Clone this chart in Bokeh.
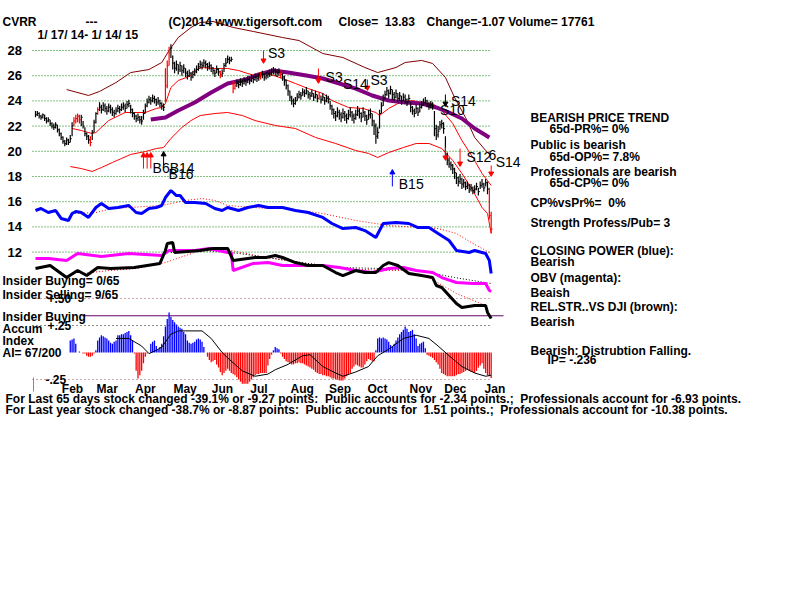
import pandas as pd
from bokeh.plotting import figure
from bokeh.models import Range1d
from bokeh.embed import file_html
from bokeh.resources import INLINE
from bokeh.core.properties import value

# ------------------------------------------------------------------ data
HOLIDAYS = ["2014-01-20", "2014-02-17", "2014-04-18", "2014-05-26", "2014-07-04",
            "2014-09-01", "2014-11-27", "2014-12-25", "2015-01-01"]
dates = [d for d in pd.bdate_range("2014-01-17", "2015-01-14")
         if d.strftime("%Y-%m-%d") not in HOLIDAYS]

close = [22.9, 23.0, 22.8, 22.7, 22.9, 22.6, 22.4, 22.5, 22.2, 22.0, 21.9, 22.1, 21.7, 21.4, 21.1,
         20.8, 20.6, 20.9, 20.7, 21.0,
         22.0, 22.4, 22.6, 22.8, 22.5, 22.7,
         22.0, 21.4, 21.2, 20.9, 20.7,
         21.5, 22.3, 23.0, 23.3,
         23.5, 23.3, 23.6, 23.4, 23.2, 23.5, 23.3, 23.1, 23.0, 23.2, 23.4, 23.3, 23.5, 23.6, 23.4, 23.7, 23.8,
         23.3, 23.0, 22.8, 22.6, 22.7, 22.5, 22.4, 23.0,
         23.6, 23.9, 24.1, 24.0, 24.2, 24.1, 23.9, 24.0, 23.8, 23.6, 23.5,
         25.2, 26.8, 27.8, 28.2,
         27.0, 26.6, 26.9, 26.5, 26.8, 26.4, 26.6, 26.2,
         26.0, 26.2, 25.9, 26.1, 26.3,
         26.5, 26.7, 26.9, 26.8, 27.0, 26.9, 26.7, 26.8, 26.6,
         26.4, 26.2, 26.5, 26.3, 26.1, 26.2,
         26.8, 27.0, 27.3, 27.2, 27.3,
         25.0, 25.2, 25.4, 25.3, 25.5, 25.4, 25.6, 25.5, 25.7, 25.6, 25.8, 25.7, 25.9, 25.8, 25.9, 26.0, 26.1, 25.9, 26.0, 26.1,
         26.2, 26.3, 26.4, 26.3, 26.2, 26.3, 26.1, 25.9, 25.6, 25.2,
         24.8, 24.3, 24.0, 23.8, 24.0,
         24.3, 24.5, 24.4, 24.7, 24.6, 24.8, 24.5,
         24.4, 24.6, 24.3, 24.5, 24.2, 24.4, 24.1, 24.3, 24.0, 24.2, 24.1,
         23.6, 23.3, 23.0, 22.8, 23.1, 22.9, 22.7, 23.0, 22.8, 22.6, 22.9, 23.1, 22.8, 22.6, 22.9,
         23.2, 23.0, 22.7, 23.1, 22.8, 22.5, 22.9, 23.0, 22.4, 22.0, 21.2, 21.5,
         23.0, 23.6, 24.2, 24.5,
         24.8, 24.6, 24.9, 24.5, 24.3, 24.6,
         24.2, 24.4, 24.0, 24.3, 24.1, 23.9, 24.2,
         23.5, 23.2, 23.0, 23.4, 23.1, 23.5, 23.7, 23.9, 24.0, 23.8, 23.6,
         23.7, 23.6,
         21.8, 21.3, 21.6,
         22.1, 22.2, 21.8,
         19.7, 19.3, 19.0,
         18.9, 18.6, 18.3, 17.9,
         17.6, 17.8, 17.4, 17.5, 17.2, 17.3, 17.0,
         17.1, 16.9, 17.0, 17.2, 16.8, 17.3, 17.4, 17.1, 17.5, 17.0,
         14.9, 13.83]

high = [23.2, 23.2, 23.1, 22.9, 23.0, 22.9, 22.7, 22.7, 22.5, 22.3, 22.2, 22.3, 22.1, 21.8, 21.5,
        21.2, 20.9, 21.1, 21.0, 21.3,
        22.3, 22.7, 22.9, 23.0, 22.9, 22.9,
        22.4, 21.9, 21.5, 21.3, 21.2,
        21.7, 22.5, 23.1, 23.5,
        23.9, 23.7, 23.9, 23.8, 23.6, 23.8, 23.7, 23.5, 23.3, 23.5, 23.7, 23.6, 23.8, 23.9, 23.8, 24.0, 24.1,
        23.7, 23.4, 23.1, 22.9, 23.0, 22.8, 22.8, 23.3,
        23.8, 24.2, 24.4, 24.3, 24.5, 24.4, 24.2, 24.3, 24.1, 23.9, 23.8,
        26.6, 27.2, 28.3, 28.5,
        27.6, 27.1, 27.2, 26.9, 27.1, 26.8, 26.9, 26.6,
        26.4, 26.5, 26.3, 26.4, 26.6,
        26.8, 27.0, 27.2, 27.1, 27.3, 27.2, 27.0, 27.1, 26.9,
        26.7, 26.5, 26.8, 26.6, 26.4, 26.5,
        27.0, 27.4, 27.6, 27.5, 27.5,
        25.6, 25.5, 25.7, 25.6, 25.8, 25.7, 25.9, 25.8, 26.0, 25.9, 26.1, 26.0, 26.2, 26.1, 26.2, 26.3, 26.4, 26.2, 26.3, 26.4,
        26.5, 26.6, 26.7, 26.6, 26.5, 26.6, 26.4, 26.2, 26.0, 25.7,
        25.3, 24.8, 24.4, 24.2, 24.3,
        24.6, 24.8, 24.7, 25.0, 24.9, 25.1, 24.8,
        24.7, 24.9, 24.6, 24.8, 24.5, 24.7, 24.4, 24.6, 24.3, 24.5, 24.4,
        24.0, 23.7, 23.4, 23.2, 23.5, 23.3, 23.1, 23.4, 23.2, 23.0, 23.3, 23.5, 23.2, 23.0, 23.3,
        23.6, 23.4, 23.1, 23.5, 23.2, 22.9, 23.3, 23.4, 23.0, 22.5, 22.2, 21.9,
        23.3, 23.9, 24.5, 24.8,
        25.1, 24.9, 25.2, 24.9, 24.7, 24.9,
        24.6, 24.7, 24.4, 24.6, 24.5, 24.2, 24.5,
        23.9, 23.6, 23.4, 23.7, 23.5, 23.8, 24.0, 24.2, 24.3, 24.1, 23.9,
        24.0, 23.9,
        23.2, 22.1, 22.0,
        22.4, 22.5, 22.3,
        21.2, 19.9, 19.5,
        19.2, 19.0, 18.7, 18.3,
        18.0, 18.2, 17.9, 17.8, 17.6, 17.6, 17.4,
        17.4, 17.2, 17.3, 17.5, 17.1, 17.6, 17.8, 17.5, 17.8, 17.6,
        17.1, 15.2]

low = [22.7, 22.8, 22.6, 22.5, 22.6, 22.4, 22.2, 22.3, 22.0, 21.8, 21.7, 21.8, 21.5, 21.2, 20.9,
       20.6, 20.4, 20.5, 20.5, 20.7,
       21.2, 22.0, 22.2, 22.3, 22.2, 22.0,
       21.8, 21.2, 20.9, 20.6, 20.4,
       20.9, 21.5, 22.2, 22.9,
       23.2, 23.0, 23.2, 23.1, 22.9, 23.1, 23.0, 22.8, 22.7, 22.9, 23.1, 23.0, 23.2, 23.3, 23.1, 23.4, 23.5,
       23.0, 22.7, 22.5, 22.3, 22.4, 22.2, 22.1, 22.5,
       23.0, 23.5, 23.8, 23.7, 23.9, 23.8, 23.6, 23.7, 23.5, 23.3, 23.2,
       23.9, 25.0, 26.8, 27.4,
       26.5, 26.2, 26.4, 26.1, 26.3, 26.0, 26.2, 25.9,
       25.7, 25.9, 25.6, 25.8, 26.0,
       26.2, 26.4, 26.6, 26.5, 26.7, 26.6, 26.4, 26.5, 26.3,
       26.1, 25.9, 26.2, 26.0, 25.8, 25.9,
       26.3, 26.7, 27.0, 26.9, 27.1,
       24.6, 24.9, 25.1, 25.0, 25.2, 25.1, 25.3, 25.2, 25.4, 25.3, 25.5, 25.4, 25.6, 25.5, 25.6, 25.7, 25.8, 25.6, 25.7, 25.8,
       25.9, 26.0, 26.1, 26.0, 25.9, 26.0, 25.8, 25.6, 25.2, 24.9,
       24.4, 24.0, 23.7, 23.5, 23.7,
       24.0, 24.2, 24.1, 24.4, 24.3, 24.5, 24.2,
       24.1, 24.3, 24.0, 24.2, 23.9, 24.1, 23.8, 24.0, 23.7, 23.9, 23.8,
       23.3, 22.9, 22.6, 22.4, 22.7, 22.5, 22.3, 22.6, 22.4, 22.2, 22.5, 22.7, 22.4, 22.2, 22.5,
       22.8, 22.6, 22.3, 22.7, 22.4, 22.1, 22.5, 22.6, 22.0, 21.3, 20.6, 21.0,
       21.8, 23.0, 23.6, 24.1,
       24.4, 24.2, 24.5, 24.1, 24.0, 24.2,
       23.9, 24.0, 23.7, 24.0, 23.8, 23.6, 23.9,
       23.1, 22.9, 22.7, 23.0, 22.8, 23.1, 23.4, 23.6, 23.7, 23.5, 23.3,
       23.4, 23.3,
       21.2, 20.9, 21.1,
       21.7, 21.8, 21.4,
       19.5, 18.9, 18.7,
       18.5, 18.2, 17.8, 17.4,
       17.2, 17.4, 17.0, 17.1, 16.9, 17.0, 16.7,
       16.8, 16.6, 16.7, 16.9, 16.5, 17.0, 17.1, 16.8, 17.2, 16.6,
       14.6, 13.5]

red_bar_days = [21, 22, 23, 24, 30, 34, 71, 72, 73, 101, 108, 109, 123, 134, 155, 248, 249]

# bands and moving averages (chart price units), read at their vertices
upper_band_days = [17, 29, 35, 44, 52, 62, 69, 73, 78, 85, 90, 97, 108, 119, 135, 144, 157, 168, 180,
                   187, 197, 202, 211, 217, 224, 229, 235, 240, 246, 249]
upper_band_vals = [24.90, 24.43, 24.75, 25.46, 26.25, 26.49, 27.05, 28.00, 29.03, 29.83, 30.22, 30.30,
                   29.83, 29.51, 29.03, 28.79, 27.76, 27.44, 26.65, 26.25, 26.65, 27.05, 27.21, 26.97,
                   25.86, 24.27, 22.68, 21.10, 20.06, 19.67]
ma21_days = [20, 25, 31, 33, 40, 49, 60, 66, 69, 71, 74, 78, 84, 87, 91, 98, 105, 111, 116, 120, 127,
             135, 142, 149, 157, 162, 171, 179, 186, 188, 193, 198, 206, 211, 217, 222, 228, 233, 239,
             244, 247, 249]
ma21_vals = [21.81, 21.65, 21.41, 21.49, 22.44, 23.08, 23.08, 23.40, 23.48, 23.79, 25.06, 25.62, 25.94,
             26.41, 26.65, 26.57, 26.57, 26.41, 26.17, 26.02, 26.17, 25.78, 25.38, 24.98, 24.59, 24.03,
             23.48, 23.40, 23.08, 22.84, 23.40, 23.79, 24.03, 23.87, 23.79, 23.24, 22.21, 20.86, 19.51,
             18.24, 17.68, 17.29]
lower_band_days = [19, 25, 31, 36, 42, 47, 52, 60, 66, 70, 74, 80, 85, 90, 98, 105, 113, 120, 131, 142,
                   153, 164, 175, 182, 187, 193, 201, 208, 215, 222, 228, 233, 239, 244, 247, 249]
lower_band_vals = [18.79, 18.63, 18.40, 18.71, 19.11, 19.43, 19.75, 19.98, 20.22, 20.30, 21.02, 21.89,
                   22.44, 22.84, 23.00, 23.08, 22.84, 22.44, 22.05, 21.81, 21.10, 20.62, 20.06, 19.83,
                   19.51, 19.90, 20.30, 20.62, 20.62, 20.22, 19.27, 18.24, 16.89, 15.54, 15.06, 13.48]
ma65_days = [63, 71, 78, 87, 96, 105, 115, 122, 130, 138, 148, 157, 166, 175, 184, 193, 202, 211, 219,
             226, 233, 240, 248]
ma65_vals = [22.52, 22.68, 23.24, 23.87, 24.67, 25.38, 25.70, 26.10, 26.41, 26.25, 26.02, 25.78, 25.38,
             24.98, 24.43, 24.03, 23.87, 23.79, 23.48, 23.08, 22.60, 21.81, 21.10]

# Closing Power (blue) and its MA (red dotted)
cp_days = [0, 3, 7, 11, 14, 18, 20, 22, 25, 29, 33, 36, 40, 45, 51, 55, 58, 62, 66, 69, 71, 74, 77, 79,
           82, 87, 93, 98, 102, 105, 111, 116, 122, 127, 135, 142, 149, 157, 162, 168, 175, 180, 186,
           190, 197, 204, 209, 215, 220, 226, 230, 237, 240, 246, 248, 249]
cp_vals = [15.30, 15.46, 15.14, 15.30, 14.67, 14.51, 15.06, 15.22, 15.14, 14.75, 15.54, 15.86, 15.46,
           15.54, 15.70, 15.14, 15.06, 15.46, 15.54, 15.70, 16.33, 16.89, 16.49, 16.49, 15.94, 15.94,
           15.86, 15.46, 15.30, 15.54, 15.30, 15.54, 15.70, 15.54, 15.54, 15.30, 15.14, 14.75, 14.27,
           13.87, 13.95, 13.71, 13.16, 14.27, 14.35, 14.27, 13.95, 13.95, 13.48, 12.92, 12.13, 11.97,
           12.13, 11.89, 11.33, 10.30]
cp_ma_days = [20, 33, 42, 51, 69, 77, 82, 91, 98, 105, 127, 138, 157, 175, 193, 211, 220, 230, 239, 248]
cp_ma_vals = [15.06, 15.14, 15.46, 15.54, 15.70, 15.94, 16.10, 16.25, 16.10, 15.70, 15.46, 15.46, 15.06,
              14.51, 14.11, 13.95, 13.87, 13.48, 12.68, 11.97]

# OBV (magenta) and relative strength vs DJI (black)
obv_days = [0, 7, 17, 23, 36, 51, 69, 73, 87, 95, 105, 107, 108, 119, 127, 135, 148, 157, 166, 175, 184,
            193, 201, 208, 217, 222, 230, 239, 246, 248, 249]
obv_vals = [11.49, 11.49, 11.33, 11.89, 11.65, 11.89, 11.73, 12.13, 12.13, 12.29, 11.97, 11.97, 10.54,
            11.10, 11.17, 10.94, 10.94, 10.94, 10.78, 10.54, 10.38, 10.70, 10.78, 10.54, 10.38, 9.98,
            9.59, 9.51, 9.51, 8.95, 8.87]
obv_ma_days = [25, 41, 55, 71, 90, 107, 123, 145, 169, 191, 200, 215, 230, 246]
obv_ma_vals = [10.30, 10.54, 10.70, 11.17, 12.13, 12.13, 11.65, 11.17, 10.70, 10.54, 10.54, 9.98, 8.71,
               7.76]
rs_days = [0, 8, 17, 23, 28, 34, 41, 54, 68, 71, 72, 75, 76, 90, 97, 105, 108, 120, 126, 131, 135, 142,
           149, 157, 164, 168, 175, 180, 186, 190, 193, 198, 204, 211, 217, 219, 222, 226, 230, 233, 240,
           246, 247, 249]
rs_vals = [10.70, 10.94, 9.98, 10.54, 10.14, 10.78, 10.70, 10.78, 11.10, 12.13, 12.68, 12.76, 11.97,
           12.13, 12.29, 12.29, 11.33, 11.57, 11.57, 11.73, 11.57, 11.17, 10.94, 10.94, 10.38, 10.14,
           10.54, 10.38, 10.38, 10.94, 11.17, 10.94, 10.30, 10.14, 9.98, 9.35, 9.19, 8.56, 7.92, 7.60,
           7.76, 7.76, 7.21, 6.73]
rs_ma_days = [74, 90, 107, 123, 145, 167, 188, 210, 229, 249]
rs_ma_vals = [11.97, 12.13, 11.97, 11.65, 11.17, 10.78, 10.70, 10.54, 9.98, 9.51]

# Accumulation Index (daily, from day 19) and its moving average
ai_first_day = 19
ai_vals = [0.11, 0.12, 0.13, 0.08,
           0.00, 0.01, 0.00, -0.01,
           -0.01, -0.03, -0.04, -0.04, -0.03, -0.01, 0.02,
           0.11, 0.14, 0.16, 0.15, 0.14, 0.13,
           0.11, 0.09, 0.08, 0.10, 0.11, 0.16,
           0.16, 0.17, 0.17, 0.18, 0.19, 0.20, 0.16,
           0.11, -0.01, -0.17, -0.24, -0.21, -0.17, -0.10,
           -0.04, -0.01, 0.00, 0.08, 0.10, 0.11, 0.06,
           0.03, 0.05, 0.08, 0.15, 0.24, 0.31,
           0.37, 0.33, 0.30, 0.28, 0.26, 0.24, 0.23,
           0.22, 0.19, 0.17, 0.11, 0.09, 0.08, 0.09,
           0.10, 0.12, 0.13, 0.12, 0.10, 0.05, 0.00,
           -0.04, -0.07, -0.09, -0.08, -0.07, -0.11, -0.14,
           -0.18, -0.21, -0.19, -0.17, -0.15, -0.17, -0.19,
           -0.20, -0.21, -0.23, -0.25, -0.27, -0.29, -0.29,
           -0.29, -0.29, -0.27, -0.25, -0.23, -0.21, -0.20,
           -0.20, -0.19, -0.19, -0.19, -0.19, -0.12, -0.06,
           -0.02, 0.02, 0.05, 0.04, 0.03, -0.01, -0.04,
           -0.06, -0.08, -0.09, -0.10, -0.11, -0.11, -0.10,
           -0.10, -0.09, -0.10, -0.10, -0.11, -0.12, -0.13,
           -0.14, -0.15, -0.16, -0.18, -0.19, -0.20, -0.20,
           -0.21, -0.21, -0.22, -0.22, -0.23, -0.24, -0.24,
           -0.25, -0.25, -0.26, -0.26, -0.26, -0.24, -0.22,
           -0.20, -0.19, -0.15, -0.13, -0.11, -0.12, -0.13,
           -0.14, -0.14, -0.11, -0.08, -0.06, -0.07, -0.08,
           -0.08, 0.02, 0.13, 0.14, 0.13, 0.14, 0.13,
           0.12, 0.10, 0.07, 0.05, 0.08, 0.11, 0.14,
           0.17, 0.19, 0.21, 0.24, 0.22, 0.19, 0.20,
           0.21, 0.17, 0.13, 0.06, 0.08, 0.09, 0.10,
           0.04, -0.02, -0.03, -0.04, -0.05, -0.07, -0.09,
           -0.11, -0.15, -0.19, -0.20, -0.21, -0.22, -0.22,
           -0.22, -0.22, -0.22, -0.21, -0.20, -0.20, -0.19,
           -0.18, -0.17, -0.16, -0.17, -0.18, -0.18, -0.19,
           -0.17, -0.14, -0.12, -0.10, -0.15, -0.19, -0.21,
           -0.22, -0.236]
ai_ma_days = [44, 51, 58, 62, 66, 69, 74, 78, 82, 91, 96, 102, 105, 113, 120, 127, 131, 138, 146, 150,
              157, 164, 168, 175, 182, 187, 193, 201, 208, 215, 220, 226, 233, 240, 246, 249]
ai_ma_vals = [0.13, 0.13, 0.06, -0.01, 0.02, 0.05, 0.17, 0.20, 0.20, 0.20, 0.13, 0.00, -0.05, -0.17,
              -0.22, -0.20, -0.16, -0.11, -0.03, -0.02, -0.13, -0.19, -0.22, -0.18, -0.13, -0.03, 0.03,
              0.13, 0.16, 0.13, 0.06, -0.03, -0.13, -0.19, -0.22, -0.21]
insider_level = 0.34
ai_levels = [0.50, 0.25, -0.25]
ai_level_labels = ["+.50", "+.25", "-.25"]

price_grid = [28, 26, 24, 22, 20, 18, 16, 14, 12]
month_names = ["Feb", "Mar", "Apr", "May", "Jun", "Jul", "Aug", "Sep", "Oct", "Nov", "Dec", "Jan"]

# signals: label, day, level (chart units, text centre)
sig_labels = ["S3", "S3", "S14", "S3", "S14", "S10", "S12", "6", "S14", "B15", "B6B14", "B16"]
sig_days = [127, 158.5, 168, 183, 227, 221, 235.5, 247.5, 251.5, 198.5, 64, 72.7]
sig_levels = [27.80, 25.86, 25.38, 25.62, 24.03, 23.24, 19.51, 19.67, 19.19, 17.37, 18.71, 18.16]
# arrows: day, tail level, head level, colour
arr_days = [124.6, 154.6, 181.4, 224, 224, 232, 249, 195, 59, 61, 63, 70]
arr_tail = [28.00, 26.57, 25.70, 24.51, 20.30, 20.22, 18.87, 17.21, 18.63, 18.63, 18.63, 18.87]
arr_head = [27.21, 25.62, 25.06, 23.79, 19.51, 19.03, 18.24, 18.32, 19.67, 19.67, 19.67, 19.75]
arr_color = ["red", "red", "red", "black", "red", "red", "red", "blue", "red", "red", "red", "black"]

# ------------------------------------------------------------------ layout
X0_PX, PX_PER_DAY = 35.0, 1.83
Y28_PX, PX_PER_UNIT = 50.0, 12.6
AI_ZERO_PX, AI_PX_PER_UNIT = 352.0, 108.0
NB = "\u00a0"


def dx(px):
    return (px - X0_PX) / PX_PER_DAY


def dy(py):
    return 28 - (py - Y28_PX) / PX_PER_UNIT


p = figure(width=800, height=600, x_range=Range1d(dx(0), dx(800)), y_range=Range1d(dy(600), dy(0)),
           toolbar_location=None, output_backend="svg", min_border=0,
           x_axis_location=None, y_axis_location=None)
p.grid.visible = False
p.outline_line_color = None
p.background_fill_color = "white"
p.border_fill_color = "white"
p.extra_y_ranges = {"ai": Range1d(-(600 - AI_ZERO_PX) / AI_PX_PER_UNIT, AI_ZERO_PX / AI_PX_PER_UNIT)}

FONT = value("Liberation Sans")
x_left, x_right = dx(32), dx(490)
n = len(close)
days = list(range(n))

# grid lines
for g in price_grid:
    p.line([x_left, x_right], [g, g], line_color="#008000", line_dash="1 2", line_width=1)
for lv, col in zip(ai_levels, ["#a05050", "#202020", "#a05050"]):
    p.line([x_left, x_right], [lv, lv], line_color=col, line_dash="1 3", line_width=1, y_range_name="ai")
p.line([dx(82), dx(503)], [insider_level, insider_level], line_color="#660066", line_width=1,
       y_range_name="ai")

# bands
p.line(upper_band_days, upper_band_vals, line_color="#800000", line_width=1)
p.line(lower_band_days, lower_band_vals, line_color="#ff0000", line_width=1)
p.line(ma21_days, ma21_vals, line_color="#ff0000", line_width=1)
p.line(ma65_days, ma65_vals, line_color="#800080", line_width=4)

# price bars
bar_col = ["red" if d in red_bar_days else "black" for d in days]
p.segment(x0=days, y0=low, x1=days, y1=high, line_color=bar_col, line_width=1.2)
p.segment(x0=days, y0=close, x1=[d + 0.8 for d in days], y1=close, line_color=bar_col, line_width=1)

# indicators
p.line(cp_ma_days, cp_ma_vals, line_color="red", line_dash="1 2", line_width=1)
p.line(cp_days, cp_vals, line_color="#0000ff", line_width=3)
p.line(obv_ma_days, obv_ma_vals, line_color="red", line_dash="1 2", line_width=1)
p.line(rs_ma_days, rs_ma_vals, line_color="black", line_dash="1 2", line_width=1)
p.line(obv_days, obv_vals, line_color="#ff00ff", line_width=3)
p.line(rs_days, rs_vals, line_color="black", line_width=3)

# accumulation index
ai_days = [ai_first_day + k for k in range(len(ai_vals))]
ai_col = ["#0000ff" if v >= 0 else "#ff0000" for v in ai_vals]
p.segment(x0=ai_days, y0=[0.0] * len(ai_vals), x1=ai_days, y1=ai_vals, line_color=ai_col,
          line_width=1.3, y_range_name="ai")
p.line(ai_ma_days, ai_ma_vals, line_color="black", line_width=1, y_range_name="ai")

# arrows
p.segment(x0=arr_days, y0=arr_tail, x1=arr_days, y1=arr_head, line_color=arr_color, line_width=1)
p.scatter([d for d, t, h in zip(arr_days, arr_tail, arr_head) if h < t],
          [h for t, h in zip(arr_tail, arr_head) if h < t], marker="inverted_triangle", size=5,
          color=[c for c, t, h in zip(arr_color, arr_tail, arr_head) if h < t])
p.scatter([d for d, t, h in zip(arr_days, arr_tail, arr_head) if h > t],
          [h for t, h in zip(arr_tail, arr_head) if h > t], marker="triangle", size=5,
          color=[c for c, t, h in zip(arr_color, arr_tail, arr_head) if h > t])

# signal labels
p.text(x=sig_days, y=sig_levels, text=sig_labels, text_font=FONT, text_font_size="14px",
       text_color="black", text_baseline="middle", text_align="left")


def label(px, py, txt, size="12px", color="black", bold=True):
    p.text(x=[dx(px)], y=[dy(py)], text=[txt.replace("  ", NB + NB)], text_font=FONT,
           text_font_size=size, text_font_style="bold" if bold else "normal", text_color=color,
           text_baseline="middle", text_align="left")


# y labels
p.text(x=[dx(7)] * len(price_grid), y=price_grid, text=[str(g) for g in price_grid], text_font=FONT,
       text_font_size="13px", text_font_style="bold", text_baseline="middle", text_align="left")
for lv, lab, px in zip(ai_levels, ai_level_labels, [47, 47, 45]):
    p.text(x=[dx(px)], y=[lv], text=[lab], text_font=FONT, text_font_size="12px",
           text_font_style="bold", text_baseline="middle", text_align="left", y_range_name="ai")

# month labels
month_starts = []
for k in range(1, n):
    if dates[k].month != dates[k - 1].month:
        month_starts.append(k)
p.text(x=month_starts, y=[dy(388)] * len(month_starts), text=month_names[:len(month_starts)],
       text_font=FONT, text_font_size="12px", text_font_style="bold", text_baseline="middle",
       text_align="left", x_offset=8)
p.segment(x0=[dx(33)], y0=[dy(377)], x1=[dx(33)], y1=[dy(391)], line_color="#999900", line_width=1)

# title row
label(2, 21, "CVRR")
label(85, 21, "---")
label(168, 21, "(C)2014 www.tigersoft.com")
label(338, 21, "Close=  13.83")
label(426, 21, "Change=-1.07 Volume= 17761")
label(37, 34, "1/ 17/ 14- 1/ 14/ 15")

# left accumulation captions
label(2, 280, "Insider Buying= 0/65")
label(2, 294, "Insider Selling= 9/65")
label(2, 316, "Insider Buying")
label(2, 328, "Accum")
label(2, 340, "Index")
label(2, 352, "AI= 67/200")

# right panel
label(530, 117, "BEARISH PRICE TREND")
label(549, 128, "65d-PR%= 0%")
label(530, 144, "Public is bearish")
label(549, 156, "65d-OP%= 7.8%")
label(530, 171, "Professionals are bearish")
label(549, 182, "65d-CP%= 0%")
label(530, 202, "CP%vsPr%=  0%")
label(530, 222, "Strength Profess/Pub= 3")
label(530, 250, "CLOSING POWER (blue):")
label(530, 261, "Bearish")
label(530, 277, "OBV (magenta):")
label(530, 292, "Beaish")
label(530, 306, "REL.STR..VS DJI (brown):")
label(530, 321, "Bearish")
label(530, 350, "Bearish: Distrubtion Falling.")
label(547, 359, "IP= -.236")

# bottom lines
label(5, 398, "For Last 65 days stock changed -39.1% or -9.27 points:  Public accounts for -2.34 points.;  "
              "Professionals account for -6.93 points.", size="12px")
label(5, 409, "For Last year stock changed -38.7% or -8.87 points:  Public accounts for  1.51 points.;  "
              "Professionals account for -10.38 points.", size="12px")

open("out.html", "w").write(file_html(p, INLINE))
